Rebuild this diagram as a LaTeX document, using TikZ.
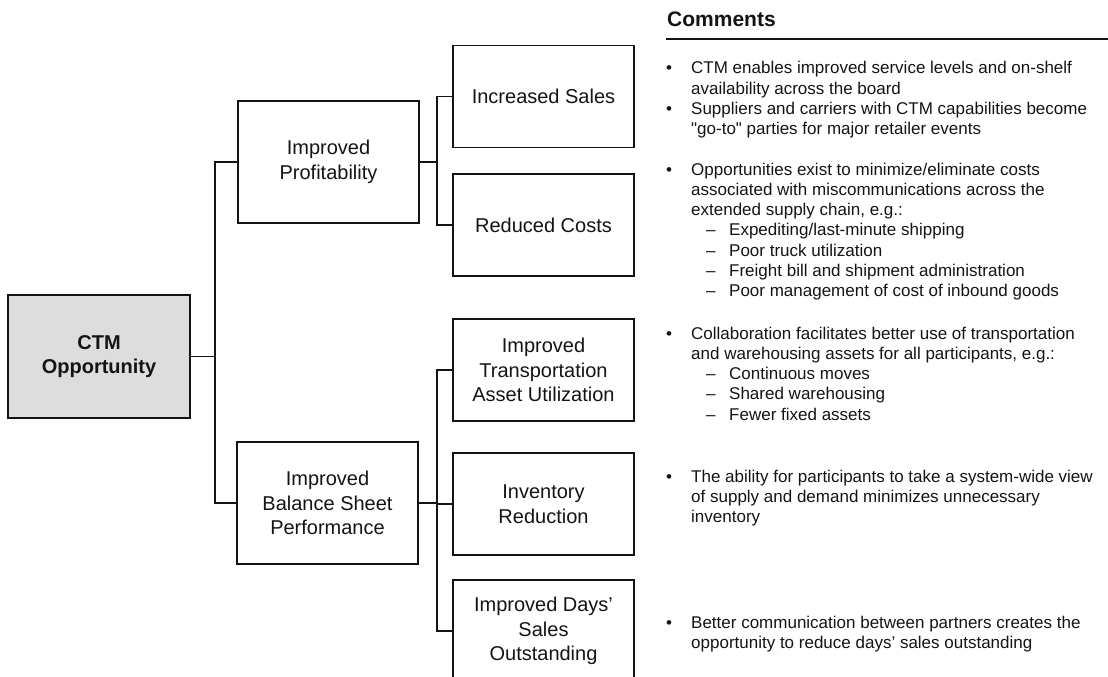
\documentclass[tikz,border=0pt]{standalone}
\usepackage{fontspec}
\setmainfont{Liberation Sans}
\definecolor{rootfill}{RGB}{221,221,221}
\definecolor{ink}{RGB}{20,20,20}
\newcommand\cmBul{\makebox[25pt][l]{\textbullet}}
\newcommand\cmInd{\hspace*{25pt}}
\newcommand\cmDash{\hspace*{40pt}\makebox[23pt][l]{\textendash}}
\newcommand\cmQ{\XeTeXglyph\XeTeXcharglyph"22\relax}
\tikzset{
  box/.style={draw=ink, line width=1.5pt, inner sep=0pt, align=center, text=ink,
    minimum width=181pt, font=\fontsize{20}{24.5}\selectfont},
  lvlone/.style={box, minimum height=122pt},
  lvltwo/.style={box, minimum height=102pt},
  rootbox/.style={box, fill=rootfill, line width=1.8pt, minimum width=182pt, minimum height=123pt,
    font=\bfseries\fontsize{20}{24.5}\selectfont},
  link/.style={draw=ink, line width=1.5pt},
  ctext/.style={anchor=base west, inner sep=0pt, text=ink},
}
\newenvironment{cmblock}{\begin{minipage}[t]{440pt}\fontsize{17}{20.3}\selectfont\setlength\parindent{0pt}}{\end{minipage}}
\begin{document}
\begin{tikzpicture}[x=1pt,y=-1pt]
\useasboundingbox (0,0) rectangle (1108,677);
% boxes
\node[rootbox] (root) at (99,356.5) {CTM\\Opportunity};
\node[lvlone] (prof) at (328.5,162) {Improved\\Profitability};
\node[lvlone] (bal) at (327.5,503) {Improved\\Balance Sheet\\Performance};
\node[lvltwo] (sales) at (543.5,96.5) {Increased Sales};
\node[lvltwo] (costs) at (543.5,225) {Reduced Costs};
\node[lvltwo] (trans) at (543.5,370) {Improved\\Transportation\\Asset Utilization};
\node[lvltwo] (inv) at (543.5,504) {Inventory\\Reduction};
\node[lvltwo] (dso) at (543.5,631) {Improved Days'\\Sales\\Outstanding};
% connectors
\draw[link] (root.east) -- ++(24,0) |- (prof.west);
\draw[link] (root.east) -- ++(24,0) |- (bal.west);
\draw[link] (prof.east) -- ++(17,0) |- (sales.west);
\draw[link] (prof.east) -- ++(17,0) |- (costs.west);
\draw[link] (bal.east) -- ++(18,0) |- (trans.west);
\draw[link] (bal.east) -- ++(18,0) |- (inv.west);
\draw[link] (bal.east) -- ++(18,0) |- (dso.west);
% comments header
\node[ctext, font=\bfseries\fontsize{21}{25}\selectfont] (hdr) at (667,27) {Comments};
\coordinate (rl) at (666,39);
\coordinate (rr) at (1108,39);
\draw[draw=ink, line width=2.2pt] (rl) -- (rr);
% comments
\node[ctext] (c1) at (666,74) {\begin{cmblock}
\cmBul CTM enables improved service levels and on-shelf\\
\cmInd availability across the board\\
\cmBul Suppliers and carriers with CTM capabilities become\\
\cmInd \cmQ go-to\cmQ{} parties for major retailer events
\end{cmblock}};
\node[ctext] (c2) at (666,175) {\begin{cmblock}
\cmBul Opportunities exist to minimize/eliminate costs\\
\cmInd associated with miscommunications across the\\
\cmInd extended supply chain, e.g.:\\
\cmDash Expediting/last-minute shipping\\
\cmDash Poor truck utilization\\
\cmDash Freight bill and shipment administration\\
\cmDash Poor management of cost of inbound goods
\end{cmblock}};
\node[ctext] (c3) at (666,339) {\begin{cmblock}
\cmBul Collaboration facilitates better use of transportation\\
\cmInd and warehousing assets for all participants, e.g.:\\
\cmDash Continuous moves\\
\cmDash Shared warehousing\\
\cmDash Fewer fixed assets
\end{cmblock}};
\node[ctext] (c4) at (666,482) {\begin{cmblock}
\cmBul The ability for participants to take a system-wide view\\
\cmInd of supply and demand minimizes unnecessary\\
\cmInd inventory
\end{cmblock}};
\node[ctext] (c5) at (666,628) {\begin{cmblock}
\cmBul Better communication between partners creates the\\
\cmInd opportunity to reduce days' sales outstanding
\end{cmblock}};
\end{tikzpicture}
\end{document}
